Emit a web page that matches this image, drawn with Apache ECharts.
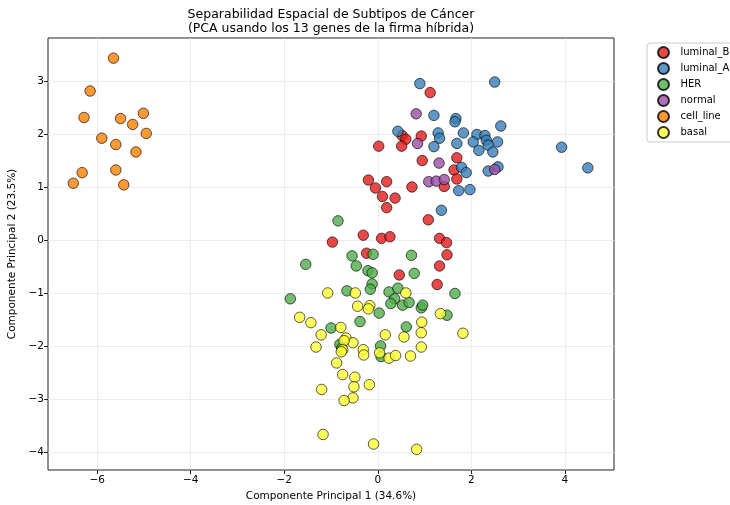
<!DOCTYPE html>
<html>
<head>
<meta charset="utf-8">
<script src="https://cdn.jsdelivr.net/npm/echarts@6/dist/echarts.min.js"></script>
<style>html,body{margin:0;padding:0;background:#fff}#c{width:730px;height:505px}</style>
</head>
<body>
<div id="c"></div>
<script>
const subtypes = ['luminal_B', 'luminal_A', 'HER', 'normal', 'cell_line', 'basal'];
const colors = ['#e41a1c', '#377eb8', '#4daf4a', '#984ea3', '#ff7f00', '#ffff33'];

const luminalB = [[1.12,2.78],[0.52,1.97],[0.60,1.90],[0.93,1.96],[0.02,1.77],[0.51,1.77],[0.95,1.50],[-0.20,1.13],[0.19,1.10],[-0.05,0.98],[0.73,1.00],[1.42,1.01],[0.10,0.82],[0.37,0.79],[0.19,0.61],[1.69,1.55],[1.63,1.32],[1.69,1.15],[1.08,0.38],[-0.31,0.09],[-0.97,-0.04],[0.08,0.03],[0.26,0.06],[1.32,0.03],[1.47,-0.05],[1.48,-0.28],[1.32,-0.49],[-0.24,-0.25],[0.46,-0.66],[1.27,-0.84]];
const luminalA = [[0.90,2.95],[1.20,2.35],[0.43,2.05],[1.29,2.02],[1.32,1.92],[1.20,1.76],[1.36,0.56],[2.50,2.98],[1.67,2.29],[1.65,2.23],[2.63,2.15],[1.83,2.02],[2.12,1.99],[2.29,1.97],[2.32,1.88],[2.56,1.85],[2.04,1.85],[1.69,1.82],[2.36,1.79],[2.16,1.69],[2.46,1.66],[3.93,1.75],[1.79,1.37],[1.89,1.27],[2.57,1.38],[2.36,1.30],[4.49,1.36],[1.73,0.93],[1.97,0.95]];
const her = [[-0.85,0.36],[-0.10,-0.27],[-0.55,-0.30],[0.72,-0.29],[-1.54,-0.46],[-0.46,-0.49],[-0.21,-0.58],[-0.12,-0.62],[0.78,-0.63],[-0.12,-0.83],[-0.16,-0.93],[-0.66,-0.96],[-1.87,-1.11],[0.24,-0.98],[0.43,-0.91],[0.36,-1.11],[0.28,-1.20],[0.53,-1.23],[0.67,-1.18],[0.93,-1.28],[0.96,-1.23],[1.65,-1.01],[0.03,-1.38],[-0.38,-1.54],[1.48,-1.42],[0.61,-1.64],[-1.00,-1.66],[-0.81,-1.97],[-0.77,-2.04],[0.06,-2.00],[0.07,-2.20]];
const normal = [[0.82,2.38],[0.85,1.82],[1.31,1.45],[1.09,1.10],[1.25,1.11],[1.42,1.14],[2.50,1.33]];
const cellLine = [[-5.65,3.43],[-6.15,2.81],[-6.28,2.31],[-5.50,2.29],[-5.01,2.39],[-5.24,2.18],[-4.95,2.01],[-5.90,1.92],[-5.60,1.80],[-5.17,1.66],[-6.32,1.27],[-5.60,1.32],[-6.51,1.07],[-5.43,1.04]];
const basal = [[-1.07,-1.00],[-0.48,-1.00],[0.60,-1.00],[-0.43,-1.25],[-0.17,-1.24],[-0.20,-1.30],[-1.67,-1.46],[-1.43,-1.56],[1.34,-1.39],[0.94,-1.55],[-0.79,-1.65],[0.93,-1.75],[1.82,-1.76],[-1.21,-1.79],[0.16,-1.79],[0.56,-1.83],[-0.68,-1.85],[-0.53,-1.94],[-0.72,-1.90],[-1.32,-2.02],[0.93,-2.02],[-0.31,-2.07],[-0.75,-2.07],[-0.78,-2.11],[-0.30,-2.17],[0.04,-2.13],[0.24,-2.23],[0.38,-2.18],[0.70,-2.19],[-0.88,-2.32],[-0.75,-2.54],[-0.49,-2.59],[-0.51,-2.77],[-0.18,-2.73],[-1.20,-2.82],[-0.53,-2.98],[-0.72,-3.03],[-1.17,-3.67],[-0.09,-3.85],[0.83,-3.95]];

const seriesData = [luminalB, luminalA, her, normal, cellLine, basal];
const xTicks = [-6, -4, -2, 0, 2, 4];
const yTicks = [-4, -3, -2, -1, 0, 1, 2, 3];
const xRange = [-7.05, 5.05];
const yRange = [-4.34, 3.81];

const titleText = 'Separabilidad Espacial de Subtipos de Cáncer\n(PCA usando los 13 genes de la firma híbrida)';
const xName = 'Componente Principal 1 (34.6%)';
const yName = 'Componente Principal 2 (23.5%)';

const FONT = 'DejaVu Sans';
const fmt = v => (v < 0 ? '\u2212' + Math.abs(v) : String(v));

const chart = echarts.init(document.getElementById('c'), null, {renderer: 'canvas'});
const gridLine = {show: true, lineStyle: {color: '#e8e8e8', width: 0.8}};
chart.setOption({
  animation: false,
  graphic: [{
    type: 'text', x: 331, y: 7,
    style: {text: titleText, textAlign: 'center', fill: '#000', font: '12.5px "DejaVu Sans"', lineHeight: 14.5}
  }],
  grid: {left: 48, right: 116, top: 38, bottom: 35, show: true, borderColor: '#222', borderWidth: 1,
         backgroundColor: 'transparent', containLabel: false, outerBoundsMode: 'none'},
  legend: {
    orient: 'vertical', left: 647, top: 43, padding: [3, 40, 3, 10],
    itemWidth: 24, itemHeight: 11, itemGap: 3, icon: 'circle',
    borderColor: '#cccccc', borderWidth: 1, borderRadius: 3, backgroundColor: '#fff',
    textStyle: {fontFamily: FONT, fontSize: 10, color: '#000', lineHeight: 11, padding: [0, 0, 0, 0]},
    data: subtypes
  },
  xAxis: {
    type: 'value', min: xRange[0], max: xRange[1],
    name: xName, nameLocation: 'middle', nameGap: 21,
    nameTextStyle: {fontFamily: FONT, fontSize: 10.5, color: '#000'},
    axisLine: {show: false, onZero: false},
    axisTick: {show: true, customValues: xTicks, length: 4, lineStyle: {color: '#222'}},
    axisLabel: {customValues: xTicks, formatter: fmt, fontFamily: FONT, fontSize: 10.5, color: '#000', margin: 5},
    splitLine: gridLine
  },
  yAxis: {
    type: 'value', min: yRange[0], max: yRange[1],
    name: yName, nameLocation: 'middle', nameGap: 28, nameRotate: 90,
    nameTextStyle: {fontFamily: FONT, fontSize: 10.5, color: '#000'},
    axisLine: {show: false, onZero: false},
    axisTick: {show: true, customValues: yTicks, length: 4, lineStyle: {color: '#222'}},
    axisLabel: {customValues: yTicks, formatter: fmt, fontFamily: FONT, fontSize: 10.5, color: '#000', margin: 4},
    splitLine: gridLine
  },
  series: subtypes.map((name, i) => ({
    name: name, type: 'scatter', data: seriesData[i],
    symbol: 'circle', symbolSize: 10.5,
    itemStyle: {color: colors[i], borderColor: '#000', borderWidth: 0.8, opacity: 0.8},
    emphasis: {disabled: true}
  }))
});
</script>
</body>
</html>
